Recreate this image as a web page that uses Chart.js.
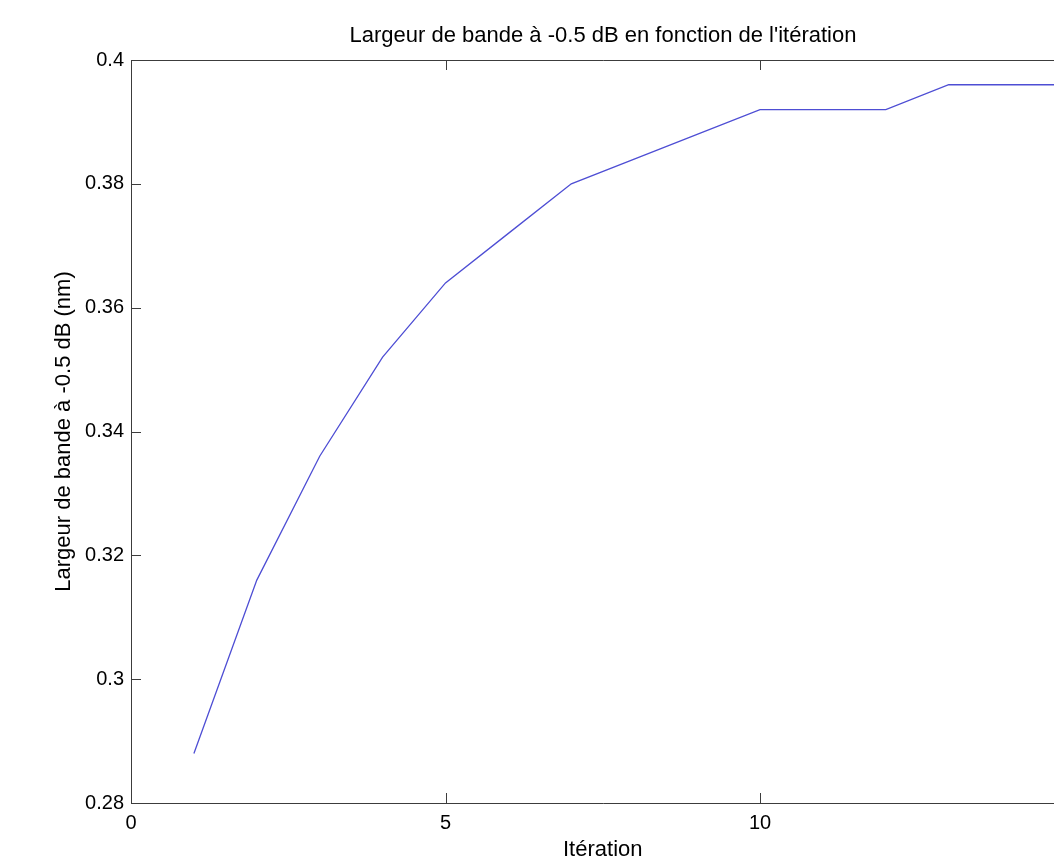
<!DOCTYPE html>
<html>
<head>
<meta charset="utf-8">
<title>Largeur de bande</title>
<script src="https://cdn.jsdelivr.net/npm/chart.js@4"></script>
<style>
    body { margin: 0; background: #fff; overflow: hidden; }
    canvas { display: block; }
</style>
</head>
<body>
<canvas id="chart" width="1206" height="860"></canvas>
<script>
// data
const iterations = [1, 2, 3, 4, 5, 6, 7, 8, 9, 10, 11, 12, 13, 14, 15];
const bandwidth = [0.288, 0.316, 0.336, 0.352, 0.364, 0.372, 0.380, 0.384, 0.388, 0.392, 0.392, 0.392, 0.396, 0.396, 0.396];

const xTicks = [0, 5, 10, 15];
const yTicks = [0.28, 0.3, 0.32, 0.34, 0.36, 0.38, 0.4];

const titleText = "Largeur de bande à -0.5 dB en fonction de l'itération";
const xLabel = 'Itération';
const yLabel = 'Largeur de bande à -0.5 dB (nm)';

const fontFamily = '"Liberation Sans", Arial, sans-serif';
const axisColor = '#3c3c3c';

// matlab style box with inward ticks
const boxPlugin = {
    id: 'box',
    afterDatasetsDraw(chart) {
        const { ctx, chartArea: a, scales } = chart;
        const len = 10;
        ctx.save();
        ctx.strokeStyle = axisColor;
        ctx.lineWidth = 1;
        ctx.beginPath();
        ctx.rect(a.left + 0.5, a.top + 0.5, a.right - a.left, a.bottom - a.top);
        scales.x.ticks.forEach(t => {
            let px = Math.round(scales.x.getPixelForValue(t.value)) + 0.5;
            ctx.moveTo(px, a.bottom);
            ctx.lineTo(px, a.bottom - len);
            ctx.moveTo(px, a.top);
            ctx.lineTo(px, a.top + len);
        });
        scales.y.ticks.forEach(t => {
            let py = Math.round(scales.y.getPixelForValue(t.value)) + 0.5;
            ctx.moveTo(a.left, py);
            ctx.lineTo(a.left + len, py);
            ctx.moveTo(a.right, py);
            ctx.lineTo(a.right - len, py);
        });
        ctx.stroke();
        ctx.restore();
    }
};

new Chart(document.getElementById('chart'), {
    type: 'line',
    data: {
        labels: iterations,
        datasets: [{
            data: bandwidth,
            borderColor: 'rgb(78, 78, 212)',
            borderWidth: 1.3,
            pointRadius: 0,
            tension: 0,
            fill: false,
        }],
    },
    options: {
        responsive: false,
        devicePixelRatio: 1,
        animation: false,
        layout: { padding: 0 },
        plugins: {
            legend: { display: false },
            tooltip: { enabled: false },
            title: {
                display: true,
                text: titleText,
                color: '#000',
                font: { family: fontFamily, size: 22, weight: 'normal' },
                padding: { top: 22.8, bottom: 10.8 },
            },
        },
        scales: {
            x: {
                type: 'linear',
                min: 0,
                max: 15,
                afterBuildTicks: s => { s.ticks = xTicks.map(v => ({ value: v })); },
                afterFit: s => { s.height = 57; },
                grid: { display: false, drawTicks: false },
                border: { display: false },
                ticks: {
                    color: '#000',
                    padding: 8,
                    font: { family: fontFamily, size: 20 },
                },
                title: {
                    display: true,
                    text: xLabel,
                    color: '#000',
                    font: { family: fontFamily, size: 22 },
                    padding: { top: 0, bottom: -3 },
                },
            },
            y: {
                min: 0.28,
                max: 0.4,
                afterBuildTicks: s => { s.ticks = yTicks.map(v => ({ value: v })); },
                afterFit: s => { s.width = 131; },
                grid: { display: false, drawTicks: false },
                border: { display: false },
                ticks: {
                    color: '#000',
                    padding: 7,
                    font: { family: fontFamily, size: 20 },
                    callback: v => String(+v.toFixed(2)),
                },
                title: {
                    display: true,
                    text: yLabel,
                    color: '#000',
                    font: { family: fontFamily, size: 22 },
                    padding: { top: 50.8, bottom: 0 },
                },
            },
            // empty right axis, only reserves the space past the plot box
            yRight: {
                position: 'right',
                min: 0.28,
                max: 0.4,
                afterFit: s => { s.width = 131.5; },
                grid: { display: false, drawTicks: false },
                border: { display: false },
                ticks: { display: false },
            },
        },
    },
    plugins: [boxPlugin],
});
</script>
</body>
</html>
